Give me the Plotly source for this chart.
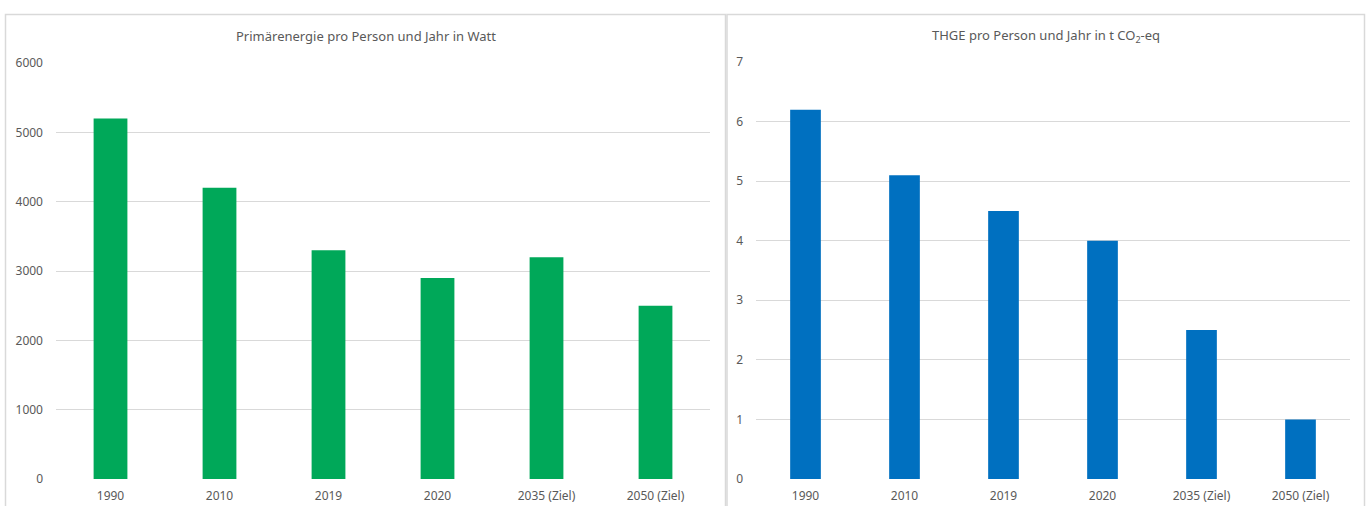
import plotly.graph_objects as go

categories = ["1990", "2010", "2019", "2020", "2035 (Ziel)", "2050 (Ziel)"]
energie_watt = [5200, 4200, 3300, 2900, 3200, 2500]
thge_t = [6.2, 5.1, 4.5, 4.0, 2.5, 1.0]
title_left = "Primärenergie pro Person und Jahr in Watt"
title_right = "THGE pro Person und Jahr in t CO<sub>2</sub>-eq"

W, H = 1366, 506
FONT = "Noto Sans"
TXT = "#595959"
GRID = "#D9D9D9"

fig = go.Figure()
fig.add_trace(go.Bar(x=categories, y=energie_watt, marker=dict(color="#00A859", line=dict(width=0)),
                     width=0.31, xaxis="x", yaxis="y", showlegend=False))
fig.add_trace(go.Bar(x=categories, y=thge_t, marker=dict(color="#0070C0", line=dict(width=0)),
                     width=0.31, xaxis="x2", yaxis="y2", showlegend=False))

def px(x):
    return x / W

def py(y):
    return (H - y) / H

axis_common = dict(showline=False, zeroline=False, ticks="", automargin=False,
                   tickfont=dict(family=FONT, size=12, color=TXT))
fig.update_layout(
    width=W, height=H, margin=dict(l=0, r=0, t=0, b=0, autoexpand=False),
    paper_bgcolor="white", plot_bgcolor="white",
    font=dict(family=FONT, color=TXT),
    bargap=0.69,
    xaxis=dict(domain=[px(56), px(710)], anchor="y", showgrid=False, ticklabelstandoff=8, **axis_common),
    yaxis=dict(domain=[py(479), py(63)], anchor="x", range=[0, 6000], dtick=1000,
               showgrid=True, gridcolor=GRID, gridwidth=1, ticklabelstandoff=12, **axis_common),
    xaxis2=dict(domain=[px(756), px(1350)], anchor="y2", showgrid=False, ticklabelstandoff=8, **axis_common),
    yaxis2=dict(domain=[py(479), py(62)], anchor="x2", range=[0, 7], dtick=1,
                showgrid=True, gridcolor=GRID, gridwidth=1, ticklabelstandoff=12, **axis_common),
    shapes=[
        dict(type="rect", xref="paper", yref="paper", x0=px(5.5), x1=px(725.5), y0=py(520), y1=py(14.5),
             line=dict(color=GRID, width=1.5), fillcolor="rgba(0,0,0,0)", layer="below"),
        dict(type="rect", xref="paper", yref="paper", x0=px(727), x1=px(1364.5), y0=py(520), y1=py(14.5),
             line=dict(color=GRID, width=1.5), fillcolor="rgba(0,0,0,0)", layer="below"),
    ],
    annotations=[
        dict(text=title_left, xref="paper", yref="paper", x=px(365.5), y=py(36), showarrow=False,
             xanchor="center", yanchor="middle", font=dict(family=FONT, size=13, color=TXT)),
        dict(text=title_right, xref="paper", yref="paper", x=px(1046), y=py(36), showarrow=False,
             xanchor="center", yanchor="middle", font=dict(family=FONT, size=13, color=TXT)),
    ],
)

fig.write_html("out.html")
